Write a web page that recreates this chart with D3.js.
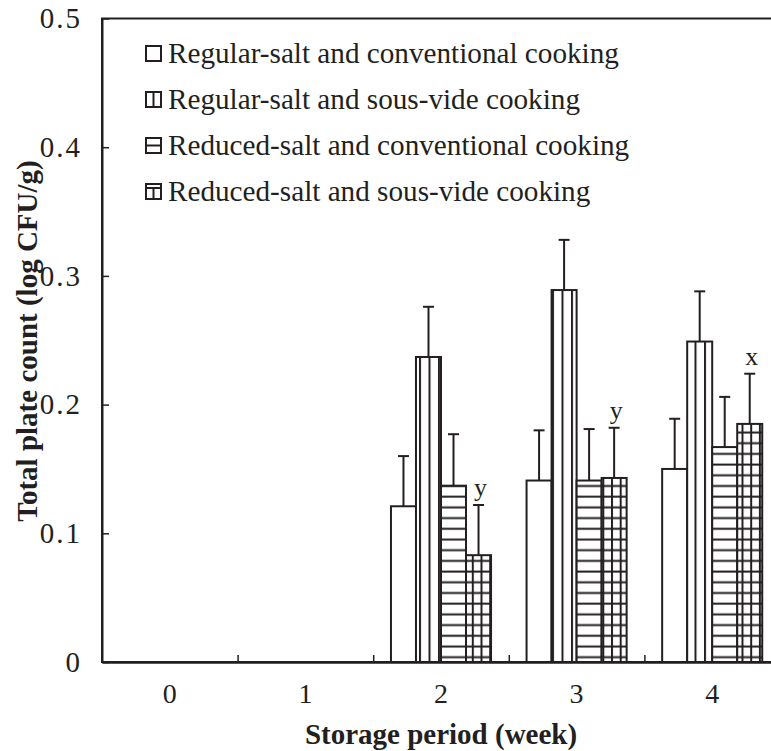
<!DOCTYPE html>
<html>
<head>
<meta charset="utf-8">
<script src="https://cdn.jsdelivr.net/npm/d3@7"></script>
<style>
  body { margin: 0; background: #fff; }
  svg text { font-family: "Liberation Serif", "Times New Roman", serif; fill: #231f20; }
</style>
</head>
<body>
<svg id="chart"></svg>
<script>
// data
let weeks = ['0', '1', '2', '3', '4']
let seriesNames = [
    'Regular-salt and conventional cooking',
    'Regular-salt and sous-vide cooking',
    'Reduced-salt and conventional cooking',
    'Reduced-salt and sous-vide cooking'
]
let regularConv = [null, null, 0.121, 0.141, 0.150]
let regularSous = [null, null, 0.237, 0.289, 0.249]
let reducedConv = [null, null, 0.137, 0.141, 0.167]
let reducedSous = [null, null, 0.083, 0.143, 0.185]
let regularConvErr = [null, null, 0.039, 0.039, 0.039]
let regularSousErr = [null, null, 0.039, 0.039, 0.039]
let reducedConvErr = [null, null, 0.040, 0.040, 0.039]
let reducedSousErr = [null, null, 0.039, 0.039, 0.039]
let letters = [null, null, 'y', 'y', 'x']   // marks above the reduced-salt sous-vide bar
let yTicks = [0, 0.1, 0.2, 0.3, 0.4, 0.5]

let width = 771
let height = 751
let plotLeft = 102
let plotRight = 780
let plotTop = 18.5
let plotBottom = 662
let ink = '#231f20'

let svg = d3.select('#chart').attr('width', width).attr('height', height)

let values = [regularConv, regularSous, reducedConv, reducedSous]
let errors = [regularConvErr, regularSousErr, reducedConvErr, reducedSousErr]
let patterns = ['none', 'vert', 'horiz', 'grid']

// patterns for the bar fills
let defs = svg.append('defs')
let vert = defs.append('pattern').attr('id', 'vert').attr('patternUnits', 'userSpaceOnUse')
    .attr('width', 9.5).attr('height', 10).attr('x', 1)
vert.append('rect').attr('width', 9.5).attr('height', 10).attr('fill', '#fff')
vert.append('line').attr('x1', 1).attr('x2', 1).attr('y1', 0).attr('y2', 10)
    .attr('stroke', ink).attr('stroke-width', 2)

let horiz = defs.append('pattern').attr('id', 'horiz').attr('patternUnits', 'userSpaceOnUse')
    .attr('width', 10).attr('height', 10.7)
horiz.append('rect').attr('width', 10).attr('height', 10.7).attr('fill', '#fff')
horiz.append('line').attr('x1', 0).attr('x2', 10).attr('y1', 4.5).attr('y2', 4.5)
    .attr('stroke', ink).attr('stroke-width', 2)

let grid = defs.append('pattern').attr('id', 'grid').attr('patternUnits', 'userSpaceOnUse')
    .attr('width', 8.7).attr('height', 10.7).attr('x', 2)
grid.append('rect').attr('width', 8.7).attr('height', 10.7).attr('fill', '#fff')
grid.append('line').attr('x1', 0).attr('x2', 8.7).attr('y1', 4.5).attr('y2', 4.5)
    .attr('stroke', ink).attr('stroke-width', 2)
grid.append('line').attr('x1', 1).attr('x2', 1).attr('y1', 0).attr('y2', 10.7)
    .attr('stroke', ink).attr('stroke-width', 2)

// scales
let xScale = d3.scaleBand().domain(weeks).range([plotLeft, plotRight]).padding(0)
let xEdges = d3.scaleLinear().domain([0, weeks.length]).range([plotLeft, plotRight])
let subScale = d3.scaleBand().domain(d3.range(seriesNames.length))
    .range([0, xScale.bandwidth()]).paddingInner(0).paddingOuter(0.71)
let yScale = d3.scaleLinear().domain([0, 0.5]).range([plotBottom, plotTop])

// plot frame
svg.append('rect')
    .attr('x', plotLeft).attr('y', plotTop)
    .attr('width', plotRight - plotLeft).attr('height', plotBottom - plotTop)
    .attr('fill', 'none').attr('stroke', ink).attr('stroke-width', 2)

// bars
let barData = []
values.forEach((arr, s) => {
    arr.forEach((v, i) => {
        if (v != null) barData.push({ s: s, week: weeks[i], v: v, err: errors[s][i], letter: letters[i] })
    })
})

svg.selectAll('rect.bar')
    .data(barData)
    .enter()
    .append('rect')
    .attr('class', 'bar')
    .attr('x', d => xScale(d.week) + subScale(d.s))
    .attr('y', d => yScale(d.v))
    .attr('width', subScale.bandwidth())
    .attr('height', d => yScale(0) - yScale(d.v))
    .attr('fill', d => patterns[d.s] == 'none' ? '#fff' : 'url(#' + patterns[d.s] + ')')
    .attr('stroke', ink)
    .attr('stroke-width', 2)

// error bars (upper only)
let errG = svg.append('g').attr('stroke', ink).attr('stroke-width', 2)
barData.forEach(d => {
    let cx = xScale(d.week) + subScale(d.s) + subScale.bandwidth() / 2
    errG.append('line').attr('x1', cx).attr('x2', cx)
        .attr('y1', yScale(d.v)).attr('y2', yScale(d.v + d.err))
    errG.append('line').attr('x1', cx - 5.5).attr('x2', cx + 5.5)
        .attr('y1', yScale(d.v + d.err)).attr('y2', yScale(d.v + d.err))
})

// significance letters
svg.selectAll('text.letter')
    .data(barData.filter(d => d.s == 3 && d.letter))
    .enter()
    .append('text')
    .attr('class', 'letter')
    .attr('x', d => xScale(d.week) + subScale(d.s) + subScale.bandwidth() / 2 + 2)
    .attr('y', d => yScale(d.v + d.err) - 9)
    .attr('text-anchor', 'middle')
    .style('font-size', '26px')
    .text(d => d.letter)

// axes
let yAxis = d3.axisLeft(yScale)
    .tickValues(yTicks)
    .tickSizeInner(-7)
    .tickSizeOuter(0)
    .tickPadding(20)
    .tickFormat(d => d == 0 ? '0' : d.toFixed(1))

let yG = svg.append('g')
    .attr('transform', 'translate(' + plotLeft + ',0)')
    .call(yAxis)
yG.select('.domain').attr('stroke', ink).attr('stroke-width', 2)
yG.selectAll('.tick line').attr('stroke', ink).attr('stroke-width', 1.5)
yG.selectAll('.tick text').style('font-size', '29px').style('letter-spacing', '2px').attr('fill', ink)

let xAxis = d3.axisBottom(xScale).tickSize(0).tickPadding(21)
let xG = svg.append('g')
    .attr('transform', 'translate(0,' + plotBottom + ')')
    .call(xAxis)
xG.select('.domain').attr('stroke', ink).attr('stroke-width', 2.5)
xG.selectAll('.tick text').style('font-size', '28px').attr('fill', ink)

let edgeAxis = d3.axisBottom(xEdges).tickValues([1, 2, 3, 4]).tickSize(-7).tickFormat('')
let eG = svg.append('g')
    .attr('transform', 'translate(0,' + plotBottom + ')')
    .call(edgeAxis)
eG.select('.domain').remove()
eG.selectAll('.tick line').attr('stroke', ink).attr('stroke-width', 1.5)

// axis titles
svg.append('text')
    .attr('x', (plotLeft + plotRight) / 2)
    .attr('y', 744)
    .attr('text-anchor', 'middle')
    .style('font-size', '29px')
    .style('font-weight', 'bold')
    .text('Storage period (week)')

svg.append('text')
    .attr('transform', 'translate(37,341) rotate(-90)')
    .attr('text-anchor', 'middle')
    .style('font-size', '29px')
    .style('font-weight', 'bold')
    .text('Total plate count (log CFU/g)')

// legend
let legend = svg.append('g').attr('transform', 'translate(146,46)')
seriesNames.forEach((name, i) => {
    let g = legend.append('g').attr('transform', 'translate(0,' + (i * 46) + ')')
    g.append('rect').attr('width', 15).attr('height', 15)
        .attr('fill', '#fff').attr('stroke', ink).attr('stroke-width', 2)
    if (i == 1) {
        g.append('line').attr('x1', 7.5).attr('x2', 7.5).attr('y1', 0).attr('y2', 15)
            .attr('stroke', ink).attr('stroke-width', 2)
    }
    if (i == 2) {
        g.append('line').attr('x1', 0).attr('x2', 15).attr('y1', 7.5).attr('y2', 7.5)
            .attr('stroke', ink).attr('stroke-width', 2)
    }
    if (i == 3) {
        g.append('line').attr('x1', 0).attr('x2', 15).attr('y1', 4).attr('y2', 4)
            .attr('stroke', ink).attr('stroke-width', 2)
        g.append('line').attr('x1', 7.5).attr('x2', 7.5).attr('y1', 4).attr('y2', 15)
            .attr('stroke', ink).attr('stroke-width', 2)
    }
    g.append('text')
        .attr('x', 22)
        .attr('y', 17)
        .style('font-size', '29.2px')
        .text(name)
})
</script>
</body>
</html>
